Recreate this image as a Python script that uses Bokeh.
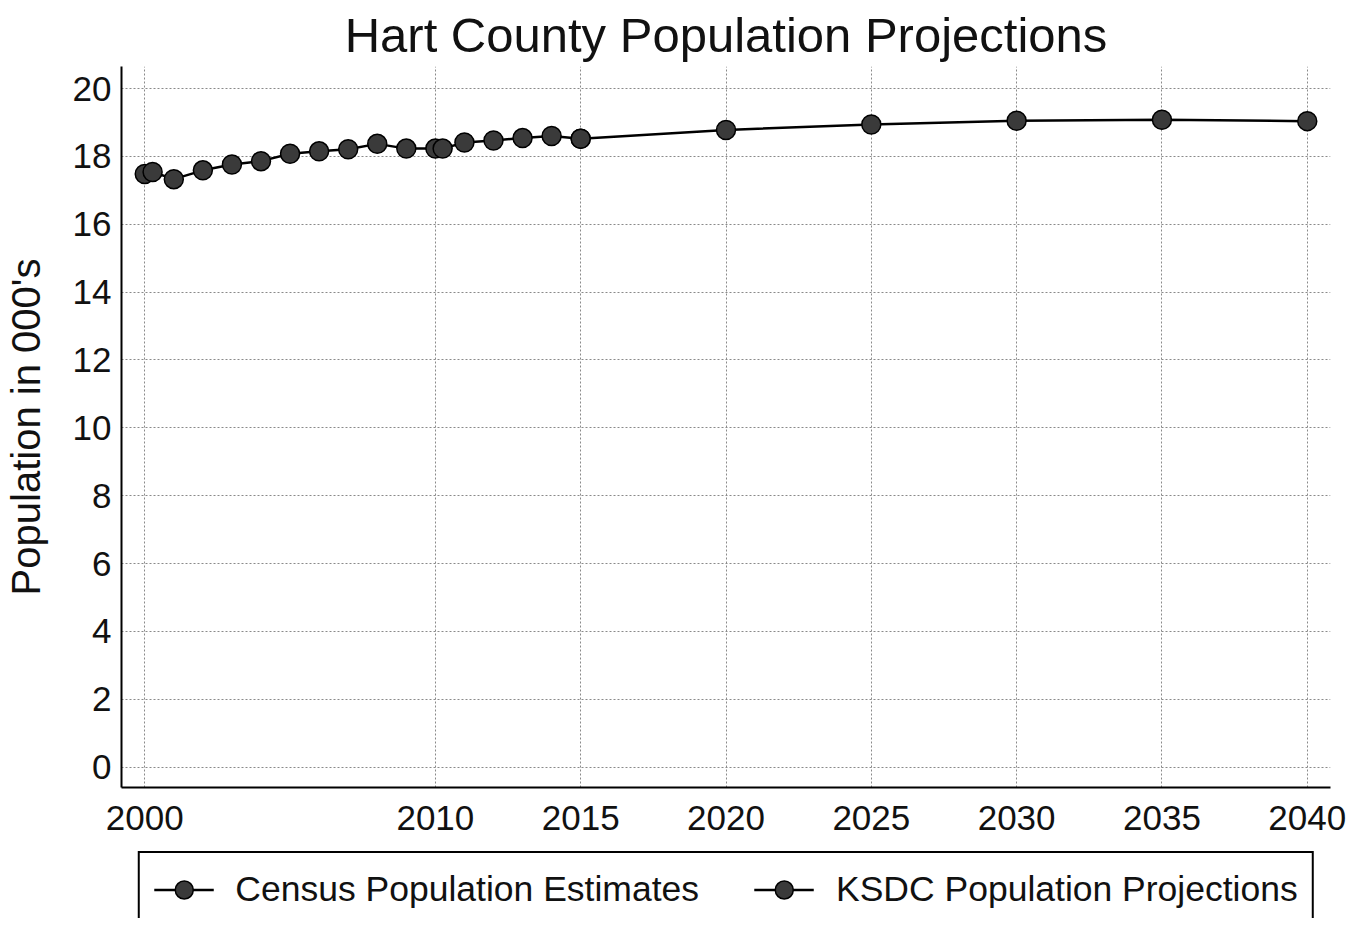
from bokeh.plotting import figure
from bokeh.models import Range1d, FixedTicker, Legend, LegendItem
from bokeh.layouts import column
from bokeh.embed import file_html
from bokeh.resources import INLINE

census_years = [2000, 2000.27, 2001, 2002, 2003, 2004, 2005, 2006, 2007, 2008, 2009,
                2010, 2010.25, 2011, 2012, 2013, 2014, 2015]
census_pop = [17.48, 17.54, 17.33, 17.59, 17.76, 17.86, 18.08, 18.15, 18.21, 18.37, 18.23,
              18.23, 18.23, 18.41, 18.47, 18.54, 18.60, 18.52]
ksdc_years = [2015, 2020, 2025, 2030, 2035, 2040]
ksdc_pop = [18.52, 18.78, 18.94, 19.05, 19.08, 19.04]
series_names = ["Census Population Estimates", "KSDC Population Projections"]
x_ticks = [2000, 2010, 2015, 2020, 2025, 2030, 2035, 2040]
y_ticks = [0, 2, 4, 6, 8, 10, 12, 14, 16, 18, 20]

FONT = "Liberation Sans"
NAN = float("nan")

p = figure(width=1348, height=835, output_backend="svg", toolbar_location=None,
           x_range=Range1d(1999.2, 2040.8), y_range=Range1d(-0.6, 20.65),
           min_border_left=117, min_border_right=18, min_border_top=62,
           min_border_bottom=48)
p.outline_line_color = None

p.title.text = "Hart County Population Projections"
p.title.text_font = FONT
p.title.text_font_size = "49px"
p.title.text_font_style = "normal"
p.title.align = "center"
p.title.text_color = "#111111"

for ax in (p.xaxis[0], p.yaxis[0]):
    ax.axis_line_color = "black"
    ax.axis_line_width = 2
    ax.major_tick_line_color = None
    ax.minor_tick_line_color = None
    ax.major_label_text_font = FONT
    ax.major_label_text_font_size = "35px"
    ax.major_label_text_color = "#111111"

p.xaxis.ticker = FixedTicker(ticks=x_ticks)
p.yaxis.ticker = FixedTicker(ticks=y_ticks)
p.xaxis.major_label_standoff = 12
p.yaxis.major_tick_out = 0
p.yaxis.major_label_standoff = 10
p.yaxis.axis_label = "Population in 000's"
p.yaxis.axis_label_text_font = FONT
p.yaxis.axis_label_text_font_size = "40px"
p.yaxis.axis_label_text_font_style = "normal"
p.yaxis.axis_label_standoff = 22
p.yaxis.axis_label_text_color = "#111111"

p.xgrid.ticker = FixedTicker(ticks=x_ticks)
p.ygrid.ticker = FixedTicker(ticks=y_ticks)
for g in (p.xgrid[0], p.ygrid[0]):
    g.grid_line_color = "#8a8a8a"
    g.grid_line_dash = "2 2"
    g.grid_line_width = 1

line_kw = dict(line_color="black", line_width=2.5)
dot_kw = dict(size=19, fill_color="#3a3a3a", line_color="black", line_width=1.5)

p.line(census_years, census_pop, **line_kw)
p.scatter(census_years, census_pop, **dot_kw)
p.line(ksdc_years, ksdc_pop, **line_kw)
p.scatter(ksdc_years, ksdc_pop, **dot_kw)

# legend strip below the chart (same glyph styles; renderers hold no visible data)
q = figure(width=1348, height=83, output_backend="svg", toolbar_location=None,
           x_range=Range1d(0, 1), y_range=Range1d(0, 1),
           x_axis_type=None, y_axis_type=None,
           min_border_left=117, min_border_right=18, min_border_top=0,
           min_border_bottom=0)
q.outline_line_color = None
q.xgrid.visible = False
q.ygrid.visible = False
items = []
for name in series_names:
    lr = q.line([NAN], [NAN], **line_kw)
    sr = q.scatter([NAN], [NAN], **dot_kw)
    items.append(LegendItem(label=name, renderers=[lr, sr]))

legend = Legend(items=items, orientation="horizontal", location="top_center",
                label_text_font=FONT, label_text_font_size="35.5px",
                label_text_color="#111111",
                glyph_width=60, glyph_height=45, label_standoff=22,
                spacing=55, padding=14, margin=16,
                border_line_color="black", border_line_width=2,
                border_line_alpha=1.0,
                background_fill_alpha=1)
q.add_layout(legend, "center")

layout = column(p, q, spacing=0)
open("out.html", "w").write(file_html(layout, INLINE))
